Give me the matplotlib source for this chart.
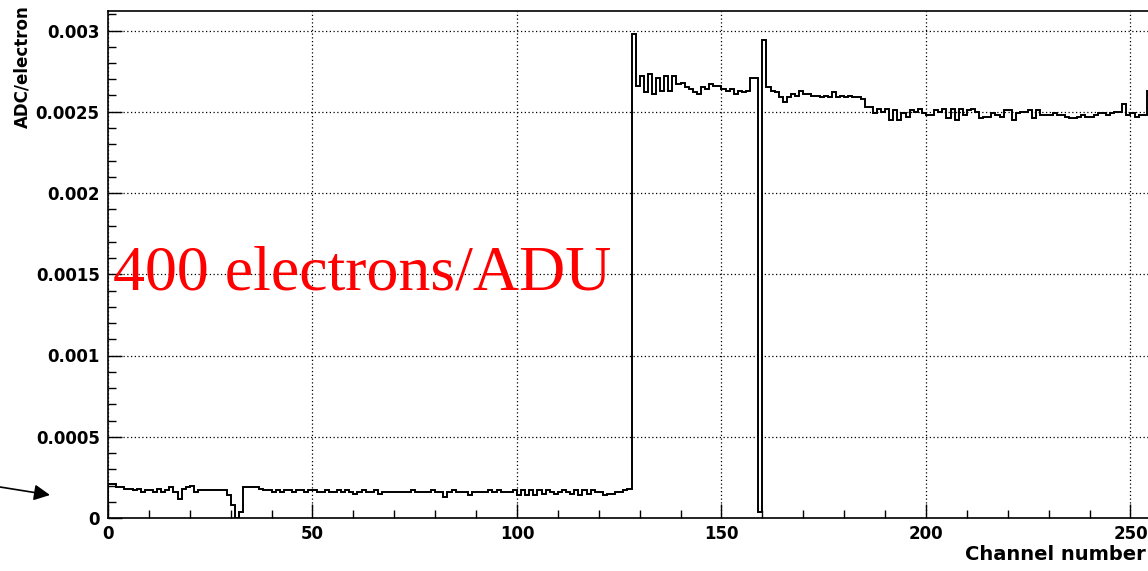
import numpy as np
import matplotlib
matplotlib.use("Agg")
import matplotlib.pyplot as plt
from matplotlib.ticker import FixedLocator, FixedFormatter, MultipleLocator

# gain per channel (ADC/electron), one value per channel 0..255
low_a = [0.00021, 0.00021, 0.00019, 0.00019, 0.00018, 0.00018, 0.00017, 0.00018,
         0.00016, 0.00017, 0.00017, 0.00016, 0.00018, 0.00016, 0.00017, 0.00019,
         0.00016, 0.00012, 0.00018, 0.00019, 0.00020, 0.00016, 0.00017, 0.00017,
         0.00017, 0.00017, 0.00017, 0.00017, 0.00017, 0.00014, 0.00008, 0.0,
         0.00004, 0.00019]
low_b = [0.00019, 0.00019, 0.00019, 0.00018, 0.00017, 0.00017, 0.00016, 0.00017,
         0.00016, 0.00017, 0.00017, 0.00016, 0.00017, 0.00017, 0.00016, 0.00017,
         0.00017, 0.00016, 0.00016, 0.00017, 0.00016, 0.00016, 0.00017, 0.00016,
         0.00017, 0.00016, 0.00015, 0.00016, 0.00017, 0.00016, 0.00016, 0.00017,
         0.00015, 0.00016, 0.00016, 0.00016, 0.00016, 0.00016, 0.00016, 0.00016,
         0.00017, 0.00016, 0.00016, 0.00016, 0.00016, 0.00017, 0.00016, 0.00016,
         0.00013, 0.00016, 0.00017, 0.00016, 0.00016, 0.00016, 0.00014, 0.00016,
         0.00016, 0.00016, 0.00016, 0.00017, 0.00016, 0.00017, 0.00016, 0.00016,
         0.00016, 0.00017, 0.00014, 0.00017, 0.00014, 0.00017, 0.00014, 0.00017,
         0.00015, 0.00017, 0.00016, 0.00015, 0.00016, 0.00017, 0.00016, 0.00015,
         0.00017, 0.00014, 0.00017, 0.00015, 0.00017, 0.00016, 0.00016, 0.00014,
         0.00015, 0.00015, 0.00016, 0.00016, 0.00017, 0.00018]
high_a = [0.00298, 0.00266, 0.00272, 0.00262, 0.00273, 0.00261, 0.00271, 0.00263,
          0.00272, 0.00263, 0.00272, 0.00267, 0.00268, 0.00265, 0.00264, 0.00262,
          0.00261, 0.00265, 0.00264, 0.00267, 0.00266, 0.00266, 0.00264, 0.00263,
          0.00264, 0.00261, 0.00263, 0.00262, 0.00263, 0.00271, 0.00271, 0.00004,
          0.00294]
high_b = [0.00265, 0.00263, 0.00262, 0.00259, 0.00256, 0.00259, 0.00261, 0.00260,
          0.00263, 0.00261, 0.00261, 0.00260, 0.00260, 0.00259, 0.00260, 0.00259,
          0.00262, 0.00259, 0.00260, 0.00259, 0.00260, 0.00259, 0.00259, 0.00258,
          0.00253, 0.00253, 0.00249, 0.00252, 0.00250, 0.00252, 0.00245, 0.00251,
          0.00245, 0.00249, 0.00247, 0.00251, 0.00250, 0.00252, 0.00249, 0.00248,
          0.00248, 0.00251, 0.00250, 0.00252, 0.00246, 0.00252, 0.00245, 0.00252,
          0.00248, 0.00251, 0.00252, 0.00250, 0.00246, 0.00247, 0.00247, 0.00249,
          0.00248, 0.00247, 0.00251, 0.00251, 0.00245, 0.00249, 0.00250, 0.00250,
          0.00251, 0.00246, 0.00251, 0.00248, 0.00248, 0.00248, 0.00249, 0.00248,
          0.00248, 0.00247, 0.00246, 0.00246, 0.00247, 0.00248, 0.00247, 0.00247,
          0.00248, 0.00249, 0.00249, 0.00248, 0.00249, 0.00250, 0.00250, 0.00255,
          0.00248, 0.00249, 0.00247, 0.00248, 0.00248, 0.00263, 0.00263]
gain = np.array(low_a + low_b + high_a + high_b)
edges = np.arange(len(gain) + 1)

x_ticks = [0, 50, 100, 150, 200, 250]
y_ticks = [0, 0.0005, 0.001, 0.0015, 0.002, 0.0025, 0.003]
y_labels = ["0", "0.0005", "0.001", "0.0015", "0.002", "0.0025", "0.003"]

W, H = 1148, 571
fig = plt.figure(figsize=(W / 100, H / 100), dpi=100)
ax = fig.add_axes([108 / W, 53 / H, 1047 / W, 507 / H])

ax.stairs(gain, edges, color="black", linewidth=1.4, baseline=0)

ax.set_xlim(0, 256)
ax.set_ylim(0, 0.00312)

ax.xaxis.set_major_locator(FixedLocator(x_ticks))
ax.xaxis.set_minor_locator(MultipleLocator(10))
ax.yaxis.set_major_locator(FixedLocator(y_ticks))
ax.yaxis.set_major_formatter(FixedFormatter(y_labels))
ax.yaxis.set_minor_locator(MultipleLocator(0.0001))

ax.tick_params(which="both", direction="in", width=1.0, color="black")
ax.tick_params(which="major", length=10)
ax.tick_params(which="minor", length=5.5)
ax.tick_params(axis="x", which="major", labelsize=12, pad=5)
ax.tick_params(axis="y", which="major", labelsize=12, pad=6)
for lab in ax.get_xticklabels() + ax.get_yticklabels():
    lab.set_fontweight("bold")

ax.grid(True, which="major", color="black", linestyle=(0, (1, 2)), linewidth=0.9)
for sp in ax.spines.values():
    sp.set_linewidth(1.2)

fig.text(22 / W, 1 - 67 / H, "ADC/electron", rotation=90, ha="center", va="center",
         fontsize=12, fontweight="bold")
fig.text(1146 / W, 1 - 554 / H, "Channel number", ha="right", va="center",
         fontsize=14, fontweight="bold")

fig.text(113 / W, 1 - 290 / H, "400 electrons/ADU", color="red",
         family="Liberation Serif", fontsize=46, ha="left", va="baseline")

ax.annotate("", xy=(50 / W, 1 - 495 / H), xytext=(0, 1 - 487 / H),
            xycoords="figure fraction", textcoords="figure fraction",
            arrowprops=dict(arrowstyle="-|>", color="black", lw=1.2,
                            mutation_scale=24, shrinkA=0, shrinkB=0),
            annotation_clip=False)

fig.savefig("out.png", dpi=100)
